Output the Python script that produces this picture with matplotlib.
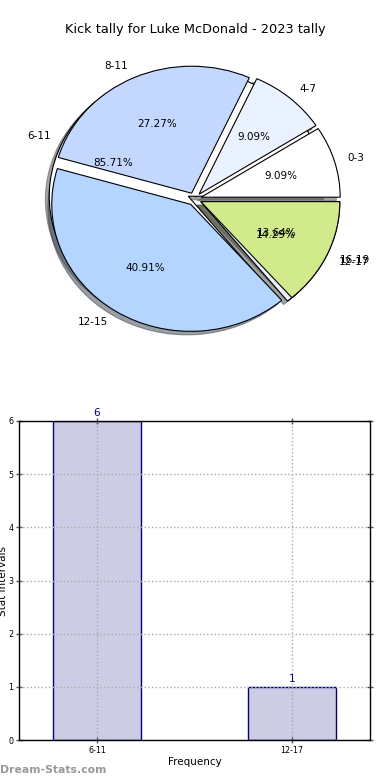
import matplotlib
matplotlib.use("Agg")
import matplotlib.pyplot as plt

# pie: kick tally per range
pie_labels = ["0-3", "4-7", "8-11", "12-15", "16-19"]
pie_values = [2, 2, 6, 9, 3]
pie_colors = ["#ffffff", "#eaf2ff", "#c4d8ff", "#b3d5ff", "#d0ea8c"]

# frequency of stat intervals
freq_labels = ["6-11", "12-17"]
freq_values = [6, 1]

fig = plt.figure(figsize=(3.9, 7.8), dpi=100)

fig.text(0.5, 1 - 30 / 780, "Kick tally for Luke McDonald - 2023 tally",
         ha="center", va="center", fontsize=9.3)

# elliptic pie, like old matplotlib without equal aspect
cx, cy, rx, ry = 194.5, 199, 139, 127
ax = fig.add_axes([(cx - 1.25 * rx) / 390, (780 - cy - 1.25 * ry) / 780,
                   2.5 * rx / 390, 2.5 * ry / 780])
ax.pie(freq_values, labels=freq_labels, colors=pie_colors[:2],
       explode=[0.05] * len(freq_values), autopct="%.2f%%", shadow=True,
       wedgeprops={"edgecolor": "black", "linewidth": 0.8},
       textprops={"fontsize": 7.5})
ax.pie(pie_values, labels=pie_labels, colors=pie_colors,
       explode=[0.05] * len(pie_values), autopct="%.2f%%", shadow=True,
       wedgeprops={"edgecolor": "black", "linewidth": 0.8},
       textprops={"fontsize": 7.5})
ax.set_aspect("auto")
ax.set_xlim(-1.25, 1.25)
ax.set_ylim(-1.25, 1.25)
ax.axis("off")

bx = fig.add_axes([19 / 390, 40 / 780, 351 / 390, 319 / 780])
xs = range(len(freq_values))
bars = bx.bar(xs, freq_values, width=0.45, color="#ccccE4", edgecolor="#000080",
              linewidth=1.0, zorder=2)
bx.bar_label(bars, padding=2, color="#000080", fontsize=7.5)
bx.set_xlim(-0.4, 1.4)
bx.set_ylim(0, 6)
bx.set_xticks(list(xs))
bx.set_xticklabels(freq_labels)
bx.set_yticks(range(7))
bx.tick_params(labelsize=5.8, direction="inout", length=4, width=1.0, color="#555555",
               top=True, right=True, pad=2)
bx.grid(True, linestyle=":", color="#aaaaaa", linewidth=1.0)
bx.set_axisbelow(False)
bx.set_xlabel("Frequency", fontsize=7.5, labelpad=2)
bx.set_ylabel("Stat Intervals", fontsize=7.5, labelpad=0.5)
for s in bx.spines.values():
    s.set_linewidth(1.0)
    s.set_zorder(4)

fig.text(0.0, 1 - 770 / 780, "Dream-Stats.com", ha="left", va="center",
         fontsize=7.8, color="#999999", fontweight="bold")

fig.savefig("out.png", dpi=100)
